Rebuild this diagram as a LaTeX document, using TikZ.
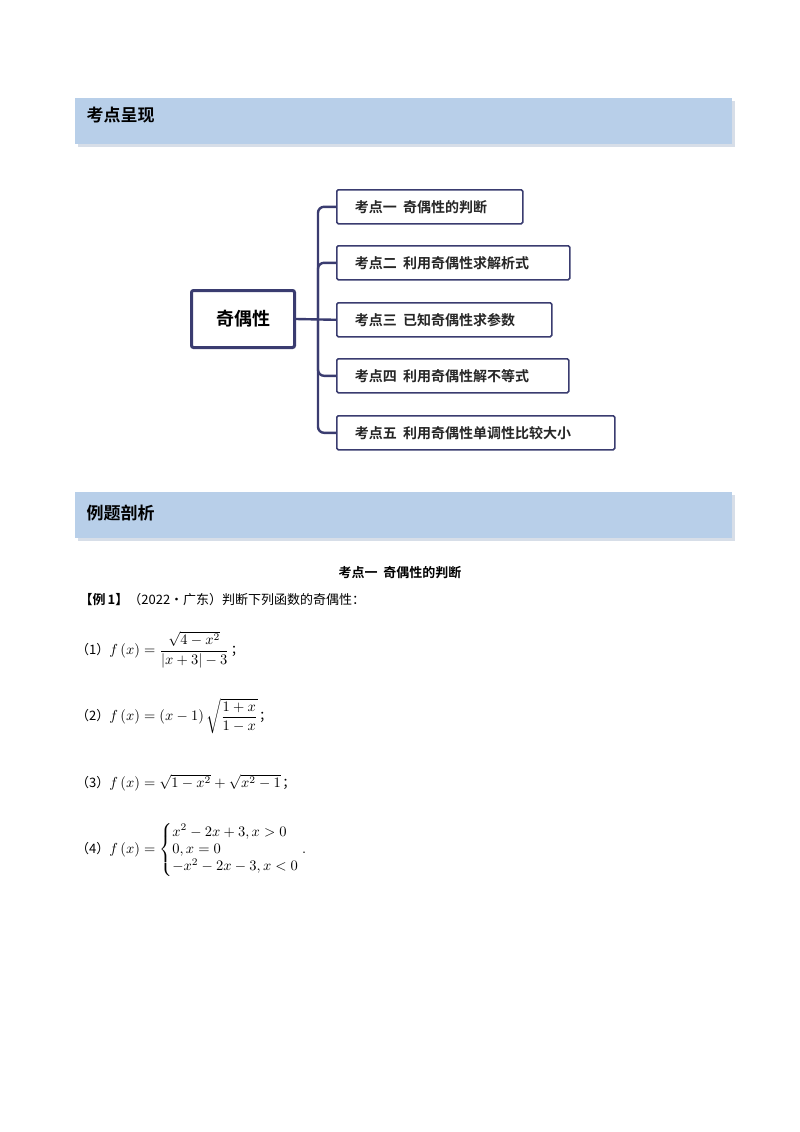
\documentclass[tikz,border=0pt]{standalone}
\usepackage{fontspec}
\usepackage{amsmath}
\usepackage{graphicx}
\newfontfamily\cjk{Noto Sans CJK SC}
\newfontfamily\cjkb{Noto Sans CJK SC Bold}
\definecolor{barblue}{RGB}{184,207,233}
\definecolor{shadowc}{RGB}{215,222,232}
\definecolor{navy}{RGB}{58,60,112}
\newcommand{\ctext}[2]{\makebox[#1pt][l]{\hspace{18pt}#2}}
\tikzset{
  bar/.style={fill=barblue, draw=none},
  child/.style={draw=navy, line width=1.6pt, rounded corners=1.5pt, anchor=north west, minimum height=34pt, inner xsep=0pt, font=\cjkb\fontsize{14}{14}\selectfont, text=black!85},
  branch/.style={draw=navy, line width=2.4pt, rounded corners=6pt},
  q/.style={anchor=west, inner sep=0pt},
}
\begin{document}
\begin{tikzpicture}[x=1pt,y=-1pt]
\useasboundingbox[fill=white] (0,0) rectangle (800,1132);
% header bars
\fill[shadowc] (78,101) rectangle (735,147);
\fill[bar] (75,98) rectangle (732,144);
\node[anchor=west, font=\cjkb\fontsize{17}{17}\selectfont] (h1) at (83,115) {考点呈现};
\fill[shadowc] (78,495) rectangle (735,541);
\fill[bar] (75,492) rectangle (732,538);
\node[anchor=west, font=\cjkb\fontsize{17}{17}\selectfont] (h2) at (83,513) {例题剖析};
% mind map
\node[draw=navy, line width=3pt, rounded corners=2pt, minimum width=103pt, minimum height=57pt, font=\cjkb\fontsize{18}{18}\selectfont] (root) at (243,319) {奇偶性};
\node[child] (c1) at (336,189) {\ctext{186}{考点一\ \ 奇偶性的判断}};
\node[child] (c2) at (336,245) {\ctext{233}{考点二\ \ 利用奇偶性求解析式}};
\node[child] (c3) at (336,302) {\ctext{215}{考点三\ \ 已知奇偶性求参数}};
\node[child] (c4) at (336,358) {\ctext{232}{考点四\ \ 利用奇偶性解不等式}};
\node[child] (c5) at (336,415) {\ctext{278}{考点五\ \ 利用奇偶性单调性比较大小}};
\coordinate (j) at (318,319);
\draw[branch] (root.east) -- (c3.west);
\draw[branch] (c1.west) -| (j) |- (c5.west);
\draw[branch] (j) |- (c2.west);
\draw[branch] (j) |- (c4.west);
% example
\node[font=\cjkb\fontsize{13}{13}\selectfont] (t) at (400,573) {考点一\ \ 奇偶性的判断};
\node[anchor=west, font=\cjk\fontsize{13}{13}\selectfont] (ex) at (76,600) {{\cjkb【例\,1】}（2022·广东）判断下列函数的奇偶性：};
\node[q] (q1) at (76,650) {{\cjk\fontsize{13}{13}\selectfont（1）}\scalebox{1.45}{$f\left(x\right)=\dfrac{\sqrt{4-x^2}}{\left|x+3\right|-3}$}\,{\cjk\fontsize{13}{13}\selectfont；}};
\node[q] (q2) at (76,716) {{\cjk\fontsize{13}{13}\selectfont（2）}\scalebox{1.45}{$f\left(x\right)=\left(x-1\right)\sqrt{\dfrac{1+x}{1-x}}$}\,{\cjk\fontsize{13}{13}\selectfont；}};
\node[q] (q3) at (76,783) {{\cjk\fontsize{13}{13}\selectfont（3）}\scalebox{1.45}{$f\left(x\right)=\sqrt{1-x^2}+\sqrt{x^2-1}$}\,{\cjk\fontsize{13}{13}\selectfont；}};
\node[q] (q4) at (76,850) {{\cjk\fontsize{13}{13}\selectfont（4）}\scalebox{1.45}{$f\left(x\right)=\left\{\begin{array}{@{}l@{}}x^2-2x+3,x>0\\0,x=0\\-x^2-2x-3,x<0\end{array}\right..$}};
\end{tikzpicture}
\end{document}
